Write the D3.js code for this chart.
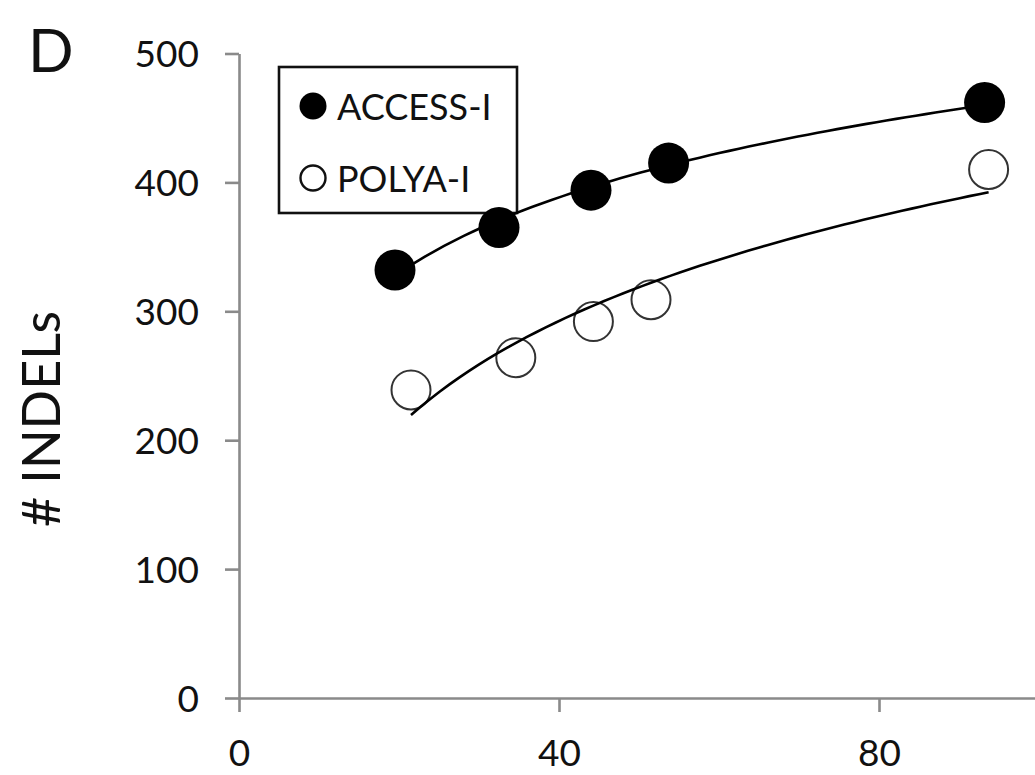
<!DOCTYPE html>
<html>
<head>
<meta charset="utf-8">
<script src="https://cdn.jsdelivr.net/npm/d3@7"></script>
<style>
  body { margin: 0; background: #fff; }
  svg { display: block; font-family: Lato, "Noto Sans", sans-serif; }
</style>
</head>
<body>
<div id="chart"></div>
<script>
// values
const accessX = [19.5, 32.5, 44.0, 53.7, 93.2];
const accessY = [332, 365, 394, 415, 462];
const polyaX = [21.5, 34.6, 44.3, 51.5, 93.7];
const polyaY = [239, 264, 292, 309, 410];
const xTicks = [0, 40, 80];
const yTicks = [0, 100, 200, 300, 400, 500];
const seriesNames = ["ACCESS-I", "POLYA-I"];

const width = 1035,
  height = 775;

const svg = d3.select("#chart")
  .append("svg")
  .attr("width", width)
  .attr("height", height);

const x = d3.scaleLinear().domain([0, 100]).range([239, 1039]);
const y = d3.scaleLinear().domain([0, 500]).range([698, 53.5]);

const axisColor = "#8a8a8a";

const xAxis = svg.append("g")
  .attr("transform", `translate(0,${y(0)})`)
  .call(d3.axisBottom(x).tickValues(xTicks).tickSize(14).tickSizeOuter(0).tickPadding(28));

const yAxis = svg.append("g")
  .attr("transform", `translate(${x(0)},0)`)
  .call(d3.axisLeft(y).tickValues(yTicks).tickSize(14).tickSizeOuter(0).tickPadding(26));

[xAxis, yAxis].forEach(ax => {
  ax.select(".domain").attr("stroke", axisColor).attr("stroke-width", 2.6);
  ax.selectAll(".tick line").attr("stroke", axisColor).attr("stroke-width", 2.6);
  ax.selectAll(".tick text")
    .attr("fill", "#111")
    .style("font-family", "Lato, 'Noto Sans', sans-serif")
    .style("font-size", "37px");
});
yAxis.selectAll(".tick text").attr("dy", "0.36em");

// axis title
svg.append("text")
  .attr("transform", `translate(60,419) rotate(-90)`)
  .attr("text-anchor", "middle")
  .style("font-size", "52px")
  .attr("fill", "#111")
  .text("# INDELs");

// panel letter
svg.append("text")
  .attr("x", 28)
  .attr("y", 72)
  .style("font-size", "60px")
  .attr("fill", "#111")
  .text("D");

// legend (drawn under the markers, as in the source)
const legend = svg.append("g");
legend.append("rect")
  .attr("x", 279)
  .attr("y", 67)
  .attr("width", 238)
  .attr("height", 146)
  .attr("fill", "#fff")
  .attr("stroke", "#111")
  .attr("stroke-width", 2.6);

const legendRows = legend.selectAll(".row")
  .data(seriesNames)
  .join("g")
  .attr("class", "row")
  .attr("transform", (d, i) => `translate(0,${i * 72})`);

legendRows.append("circle")
  .attr("cx", 313)
  .attr("cy", 106)
  .attr("r", (d, i) => i === 0 ? 13.5 : 12.5)
  .attr("fill", (d, i) => i === 0 ? "#000" : "#fff")
  .attr("stroke", (d, i) => i === 0 ? "none" : "#111")
  .attr("stroke-width", 2.4);

legendRows.append("text")
  .attr("x", 337)
  .attr("y", 120)
  .style("font-size", "36px")
  .attr("fill", "#111")
  .text(d => d);

// logarithmic trendline, same fit as the source spreadsheet
function logFit(xs, ys) {
  const lx = xs.map(Math.log);
  const mx = d3.mean(lx), my = d3.mean(ys);
  const b = d3.sum(lx, (v, i) => (v - mx) * (ys[i] - my)) / d3.sum(lx, v => (v - mx) ** 2);
  const a = my - b * mx;
  const x0 = d3.min(xs), x1 = d3.max(xs);
  return d3.range(0, 61).map(i => {
    const xv = x0 + (x1 - x0) * i / 60;
    return [xv, a + b * Math.log(xv)];
  });
}

const line = d3.line().x(d => x(d[0])).y(d => y(d[1]));

const accessPts = accessX.map((v, i) => [v, accessY[i]]);
const polyaPts = polyaX.map((v, i) => [v, polyaY[i]]);

svg.append("g").selectAll("circle")
  .data(polyaPts)
  .join("circle")
  .attr("cx", d => x(d[0]))
  .attr("cy", d => y(d[1]))
  .attr("r", 19.5)
  .attr("fill", "#fff")
  .attr("stroke", "#333")
  .attr("stroke-width", 2);

svg.append("g").selectAll("circle")
  .data(accessPts)
  .join("circle")
  .attr("cx", d => x(d[0]))
  .attr("cy", d => y(d[1]))
  .attr("r", 20.5)
  .attr("fill", "#000");

svg.append("path")
  .datum(logFit(accessX, accessY))
  .attr("d", line)
  .attr("fill", "none")
  .attr("stroke", "#000")
  .attr("stroke-width", 2.6);

svg.append("path")
  .datum(logFit(polyaX, polyaY))
  .attr("d", line)
  .attr("fill", "none")
  .attr("stroke", "#000")
  .attr("stroke-width", 2.6);
</script>
</body>
</html>
